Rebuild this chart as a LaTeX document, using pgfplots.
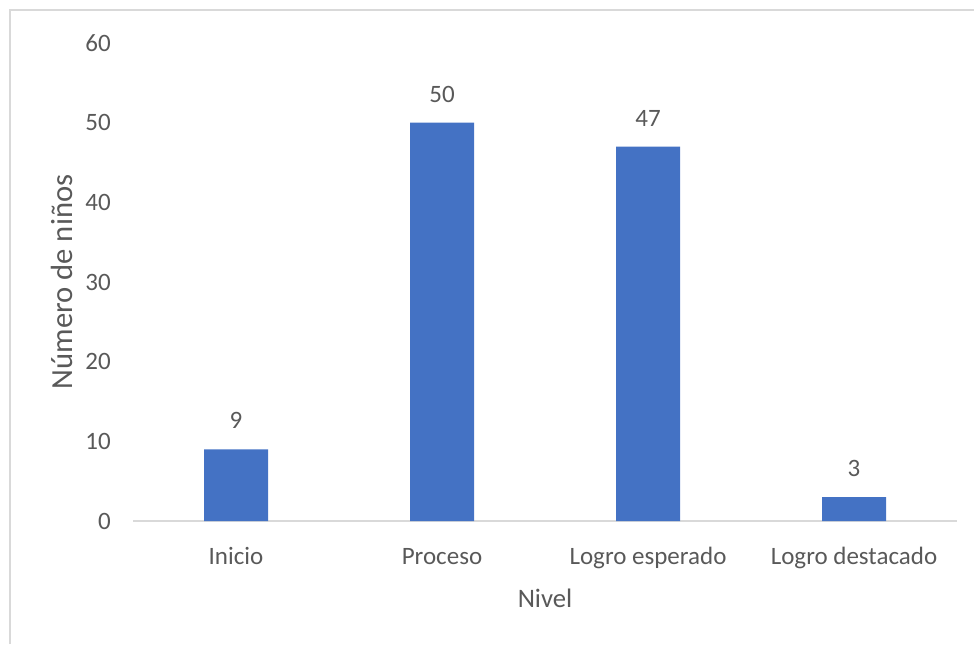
\documentclass[border=0pt]{standalone}
\usepackage{pgfplots}
\pgfplotsset{compat=1.18}
\usepackage{fontspec}
\setmainfont{Carlito}
\definecolor{barblue}{HTML}{4472C4}
\definecolor{txt}{HTML}{595959}
\definecolor{axgray}{HTML}{D9D9D9}
\begin{document}
\begin{tikzpicture}
\path[use as bounding box] (0,0) rectangle (730.5pt,483pt);
\draw[axgray, line width=1.5pt] (7.5pt,0) -- (7.5pt,475.5pt) -- (730.5pt,475.5pt);
\begin{axis}[
  at={(99.75pt,92.25pt)}, anchor=south west,
  scale only axis, width=618pt, height=358.5pt,
  ybar, bar width=48pt,
  xmin=-0.5, xmax=3.5, ymin=0, ymax=60,
  enlargelimits=false,
  xtick={0,1,2,3},
  xticklabels={Inicio,Proceso,Logro esperado,Logro destacado},
  ytick={0,10,20,30,40,50,60},
  separate axis lines,
  axis x line*=bottom, axis y line*=left,
  x axis line style={draw=axgray, line width=1.2pt, -},
  y axis line style={draw=none, -},
  major tick length=0pt,
  /pgf/number format/assume math mode=true,
  tick label style={font=\fontsize{18.75}{20}\selectfont, text=txt},
  yticklabel style={anchor=east, inner sep=0pt, xshift=-16.5pt},
  xticklabel style={anchor=base, inner sep=0pt, yshift=-32.25pt},
  xlabel={Nivel},
  ylabel={Número de niños},
  xlabel style={at={(axis description cs:0.5,0)}, anchor=base, inner sep=0pt, yshift=-64.5pt, font=\fontsize{20}{24}\selectfont, text=txt},
  ylabel style={at={(axis description cs:-0.0862,0.5)}, anchor=center, inner sep=0pt, font=\fontsize{23}{26}\selectfont, text=txt},
  nodes near coords,
  nodes near coords style={font=\fontsize{18.75}{20}\selectfont, text=txt, anchor=base, inner sep=0pt, yshift=15.4pt},
  clip=false,
]
\addplot[fill=barblue, draw=none] coordinates {(0,9) (1,50) (2,47) (3,3)};
\end{axis}
\end{tikzpicture}
\end{document}
